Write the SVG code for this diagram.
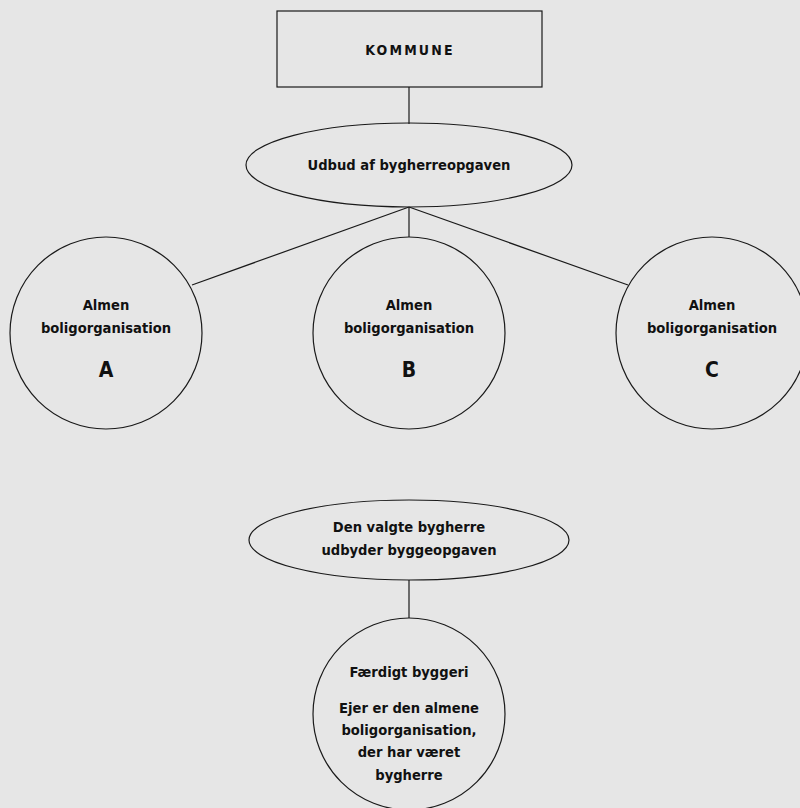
<svg xmlns="http://www.w3.org/2000/svg" width="800" height="808" viewBox="0 0 800 808">
<style>
.s{fill:none;stroke:#1a1a1a;stroke-width:1.2}
.t{font-family:"DejaVu Sans Condensed","DejaVu Sans",sans-serif;font-weight:bold;font-size:14.6px;fill:#111;text-anchor:middle}
.big{font-size:21px}
.k{font-size:14px;letter-spacing:2.2px}
</style>
<rect width="800" height="808" fill="#e6e6e6"/>
<g id="connectors" class="s">
<line x1="409" y1="87" x2="409" y2="124"/>
<line x1="409" y1="207" x2="192" y2="285"/>
<line x1="409" y1="207" x2="409" y2="237"/>
<line x1="409" y1="207" x2="628" y2="285"/>
<line x1="409" y1="580" x2="409" y2="618"/>
</g>
<g id="kommune">
<rect class="s" x="277" y="11" width="265" height="76"/>
<text class="t k" x="410" y="55">KOMMUNE</text>
</g>
<g id="udbud">
<ellipse class="s" cx="409" cy="165" rx="163" ry="42"/>
<text class="t" x="409" y="170">Udbud af bygherreopgaven</text>
</g>
<g id="orgA">
<circle class="s" cx="106" cy="333" r="96"/>
<text class="t" x="106" y="310">Almen</text>
<text class="t" x="106" y="333">boligorganisation</text>
<text class="t big" x="106" y="377">A</text>
</g>
<g id="orgB">
<circle class="s" cx="409" cy="333" r="96"/>
<text class="t" x="409" y="310">Almen</text>
<text class="t" x="409" y="333">boligorganisation</text>
<text class="t big" x="409" y="377">B</text>
</g>
<g id="orgC">
<circle class="s" cx="712" cy="333" r="96"/>
<text class="t" x="712" y="310">Almen</text>
<text class="t" x="712" y="333">boligorganisation</text>
<text class="t big" x="712" y="377">C</text>
</g>
<g id="valgte">
<ellipse class="s" cx="409" cy="540" rx="160" ry="40"/>
<text class="t" x="409" y="532">Den valgte bygherre</text>
<text class="t" x="409" y="555">udbyder byggeopgaven</text>
</g>
<g id="faerdigt">
<circle class="s" cx="409" cy="714" r="96"/>
<text class="t" x="409" y="677">Færdigt byggeri</text>
<text class="t" x="409" y="713">Ejer er den almene</text>
<text class="t" x="409" y="735">boligorganisation,</text>
<text class="t" x="409" y="757">der har været</text>
<text class="t" x="409" y="780">bygherre</text>
</g>
</svg>
